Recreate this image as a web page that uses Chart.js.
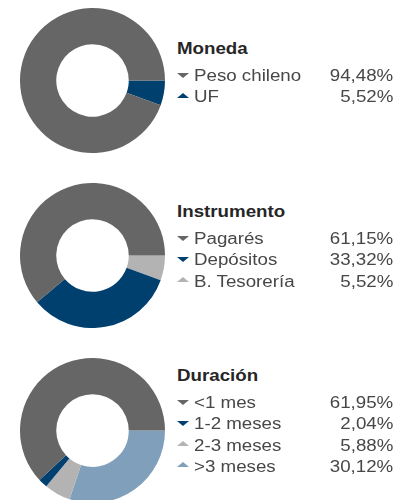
<!DOCTYPE html>
<html>
<head>
<meta charset="utf-8">
<script src="https://cdn.jsdelivr.net/npm/chart.js@4"></script>
<style>
    body { margin: 0; background: #fff; font-family: "Liberation Sans", Arial, sans-serif; }
    #page { position: relative; width: 412px; height: 500px; overflow: hidden; }
    .block { position: absolute; left: 0; width: 412px; height: 175px; }
    .block canvas { position: absolute; left: 20px; top: 8px; }
    .legend { position: absolute; left: 0; width: 412px; font-size: 16px; line-height: 21.33px; }
    .title { position: absolute; left: 177px; font-weight: bold; color: #262626; transform: scaleX(1.17); transform-origin: left top; white-space: nowrap; }
    .row { position: absolute; left: 0; width: 412px; height: 21.33px; color: #474747; }
    .label { position: absolute; left: 194px; white-space: nowrap; transform: scaleX(1.17); transform-origin: left top; }
    .value { position: absolute; right: 19px; white-space: nowrap; transform: scaleX(1.17); transform-origin: right top; }
    .tri { position: absolute; left: 177px; top: 7px; width: 0; height: 0; border-left: 6px solid transparent; border-right: 6px solid transparent; }
    .tri.down { border-top: 5px solid; }
    .tri.up { border-bottom: 5px solid; }
</style>
</head>
<body>
<div id="page"></div>
<script>
const monedaTitle = 'Moneda';
const monedaLabels = ['Peso chileno', 'UF'];
const monedaValues = [94.48, 5.52];
const monedaTrend = ['down', 'up'];

const instrumentoTitle = 'Instrumento';
const instrumentoLabels = ['Pagarés', 'Depósitos', 'B. Tesorería'];
const instrumentoValues = [61.15, 33.32, 5.52];
const instrumentoTrend = ['down', 'down', 'up'];

const duracionTitle = 'Duración';
const duracionLabels = ['<1 mes', '1-2 meses', '2-3 meses', '>3 meses'];
const duracionValues = [61.95, 2.04, 5.88, 30.12];
const duracionTrend = ['down', 'down', 'up', 'up'];

const GRAY = '#666666';
const NAVY = '#00406f';
const LIGHT_GRAY = '#b3b3b3';
const LIGHT_BLUE = '#7f9fba';

const blocks = [
    { title: monedaTitle, labels: monedaLabels, values: monedaValues, trend: monedaTrend, colors: [GRAY, NAVY], top: 0, legendTop: 37.5 },
    { title: instrumentoTitle, labels: instrumentoLabels, values: instrumentoValues, trend: instrumentoTrend, colors: [GRAY, NAVY, LIGHT_GRAY], top: 175, legendTop: 25.5 },
    { title: duracionTitle, labels: duracionLabels, values: duracionValues, trend: duracionTrend, colors: [GRAY, NAVY, LIGHT_GRAY, LIGHT_BLUE], top: 350, legendTop: 14.5 }
];

const formatPct = v => v.toFixed(2).replace('.', ',') + '%';

const page = document.getElementById('page');

blocks.forEach(block => {
    const el = document.createElement('div');
    el.className = 'block';
    el.style.top = block.top + 'px';

    const canvas = document.createElement('canvas');
    canvas.width = 145;
    canvas.height = 145;
    el.appendChild(canvas);

    // legend on the right
    const legend = document.createElement('div');
    legend.className = 'legend';
    legend.style.top = block.legendTop + 'px';

    const title = document.createElement('div');
    title.className = 'title';
    title.style.top = '0px';
    title.textContent = block.title;
    legend.appendChild(title);

    block.labels.forEach((label, i) => {
        const row = document.createElement('div');
        row.className = 'row';
        row.style.top = (27.5 + i * 21.33) + 'px';

        const tri = document.createElement('div');
        tri.className = 'tri ' + block.trend[i];
        tri.style.color = block.colors[i];
        tri.style.top = block.trend[i] === 'down' ? '7.5px' : '6.5px';
        row.appendChild(tri);

        const name = document.createElement('span');
        name.className = 'label';
        name.textContent = label;
        row.appendChild(name);

        const value = document.createElement('span');
        value.className = 'value';
        value.textContent = formatPct(block.values[i]);
        row.appendChild(value);

        legend.appendChild(row);
    });

    el.appendChild(legend);
    page.appendChild(el);

    // slices run counter-clockwise from 3 o'clock, so feed them reversed
    new Chart(canvas.getContext('2d'), {
        type: 'doughnut',
        data: {
            labels: block.labels.slice().reverse(),
            datasets: [{
                data: block.values.slice().reverse(),
                backgroundColor: block.colors.slice().reverse(),
                borderWidth: 0
            }]
        },
        options: {
            responsive: false,
            animation: false,
            events: [],
            rotation: 90,
            cutout: '50%',
            layout: { padding: 0 },
            plugins: {
                legend: { display: false },
                tooltip: { enabled: false }
            }
        }
    });
});
</script>
</body>
</html>
